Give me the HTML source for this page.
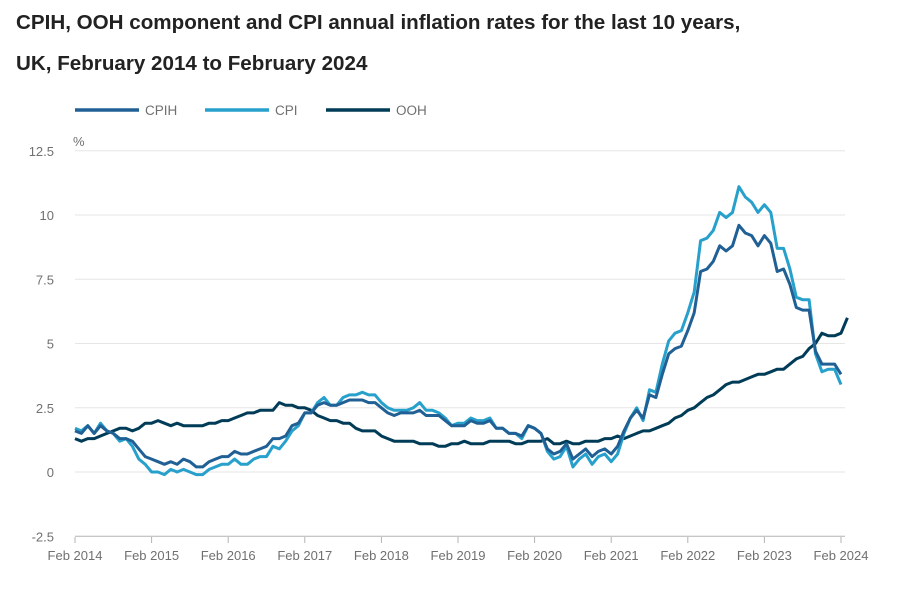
<!DOCTYPE html>
<html><head><meta charset="utf-8"><style>
body{margin:0;background:#fff;font-family:"Liberation Sans",sans-serif;}
h1{position:absolute;left:16px;top:0;margin:0;font-size:20.6px;font-weight:bold;color:#222;line-height:41px;padding-top:2px}
</style></head><body>
<h1>CPIH, OOH component and CPI annual inflation rates for the last 10 years,<br>UK, February 2014 to February 2024</h1>
<svg id="s" width="897" height="600" style="position:absolute;left:0;top:0"></svg>
<script>
const cpi=[1.7,1.6,1.8,1.5,1.9,1.6,1.5,1.2,1.3,1.0,0.5,0.3,0.0,0.0,-0.1,0.1,0.0,0.1,0.0,-0.1,-0.1,0.1,0.2,0.3,0.3,0.5,0.3,0.3,0.5,0.6,0.6,1.0,0.9,1.2,1.6,1.8,2.3,2.3,2.7,2.9,2.6,2.6,2.9,3.0,3.0,3.1,3.0,3.0,2.7,2.5,2.4,2.4,2.4,2.5,2.7,2.4,2.4,2.3,2.1,1.8,1.9,1.9,2.1,2.0,2.0,2.1,1.7,1.7,1.5,1.5,1.3,1.8,1.7,1.5,0.8,0.5,0.6,1.0,0.2,0.5,0.7,0.3,0.6,0.7,0.4,0.7,1.5,2.1,2.5,2.0,3.2,3.1,4.2,5.1,5.4,5.5,6.2,7.0,9.0,9.1,9.4,10.1,9.9,10.1,11.1,10.7,10.5,10.1,10.4,10.1,8.7,8.7,7.9,6.8,6.7,6.7,4.6,3.9,4.0,4.0,3.4];
const cpih=[1.6,1.5,1.8,1.5,1.8,1.6,1.5,1.3,1.3,1.2,0.9,0.6,0.5,0.4,0.3,0.4,0.3,0.5,0.4,0.2,0.2,0.4,0.5,0.6,0.6,0.8,0.7,0.7,0.8,0.9,1.0,1.3,1.3,1.4,1.8,1.9,2.3,2.3,2.6,2.7,2.6,2.6,2.7,2.8,2.8,2.8,2.7,2.7,2.5,2.3,2.2,2.3,2.3,2.3,2.4,2.2,2.2,2.2,2.0,1.8,1.8,1.8,2.0,1.9,1.9,2.0,1.7,1.7,1.5,1.5,1.4,1.8,1.7,1.5,0.9,0.7,0.8,1.1,0.5,0.7,0.9,0.6,0.8,0.9,0.7,1.0,1.6,2.1,2.4,2.1,3.0,2.9,3.8,4.6,4.8,4.9,5.5,6.2,7.8,7.9,8.2,8.8,8.6,8.8,9.6,9.3,9.2,8.8,9.2,8.9,7.8,7.9,7.3,6.4,6.3,6.3,4.7,4.2,4.2,4.2,3.8];
const ooh=[1.3,1.2,1.3,1.3,1.4,1.5,1.6,1.7,1.7,1.6,1.7,1.9,1.9,2.0,1.9,1.8,1.9,1.8,1.8,1.8,1.8,1.9,1.9,2.0,2.0,2.1,2.2,2.3,2.3,2.4,2.4,2.4,2.7,2.6,2.6,2.5,2.5,2.4,2.2,2.1,2.0,2.0,1.9,1.9,1.7,1.6,1.6,1.6,1.4,1.3,1.2,1.2,1.2,1.2,1.1,1.1,1.1,1.0,1.0,1.1,1.1,1.2,1.1,1.1,1.1,1.2,1.2,1.2,1.2,1.1,1.1,1.2,1.2,1.2,1.3,1.1,1.1,1.2,1.1,1.1,1.2,1.2,1.2,1.3,1.3,1.4,1.3,1.4,1.5,1.6,1.6,1.7,1.8,1.9,2.1,2.2,2.4,2.5,2.7,2.9,3.0,3.2,3.4,3.5,3.5,3.6,3.7,3.8,3.8,3.9,4.0,4.0,4.2,4.4,4.5,4.8,5.0,5.4,5.3,5.3,5.4,6.0];
const X0=75,DX=(841-75)/120,Y0=472,DY=25.7;
let h='';
const yl=[[12.5,'12.5'],[10,'10'],[7.5,'7.5'],[5,'5'],[2.5,'2.5'],[0,'0'],[-2.5,'-2.5']];
for(const [v,t] of yl){const y=Y0-v*DY;h+=`<line x1="75" x2="845" y1="${y}" y2="${y}" stroke="${v==-2.5?'#b3b3b3':'#e6e6e6'}" stroke-width="1"/>`;
h+=`<text x="54" y="${y+5}" text-anchor="end" font-size="13" fill="#707070">${t}</text>`;}
for(let i=0;i<=10;i++){const x=X0+i*12*DX;h+=`<line x1="${x}" x2="${x}" y1="537" y2="543" stroke="#b3b3b3"/><text x="${x}" y="560" text-anchor="middle" font-size="13" fill="#707070">Feb ${2014+i}</text>`;}
h+=`<text x="73" y="146" font-size="13" fill="#707070">%</text>`;
const lg=[['CPIH','#206095',75],['CPI','#27a0cc',205],['OOH','#003c57',326]];
for(const [n,c,x] of lg){h+=`<line x1="${x}" x2="${x+64}" y1="110" y2="110" stroke="${c}" stroke-width="3.5"/><text x="${x+70}" y="115" font-size="13.5" fill="#707070">${n}</text>`;}
function pl(d,c){return `<polyline fill="none" stroke="${c}" stroke-width="3" stroke-linejoin="round" points="${d.map((v,i)=>(X0+i*DX).toFixed(1)+','+(Y0-v*DY).toFixed(1)).join(' ')}"/>`;}
h+=pl(ooh,'#003c57')+pl(cpi,'#27a0cc')+pl(cpih,'#206095');
document.getElementById('s').innerHTML=h;
</script>
</body></html>
